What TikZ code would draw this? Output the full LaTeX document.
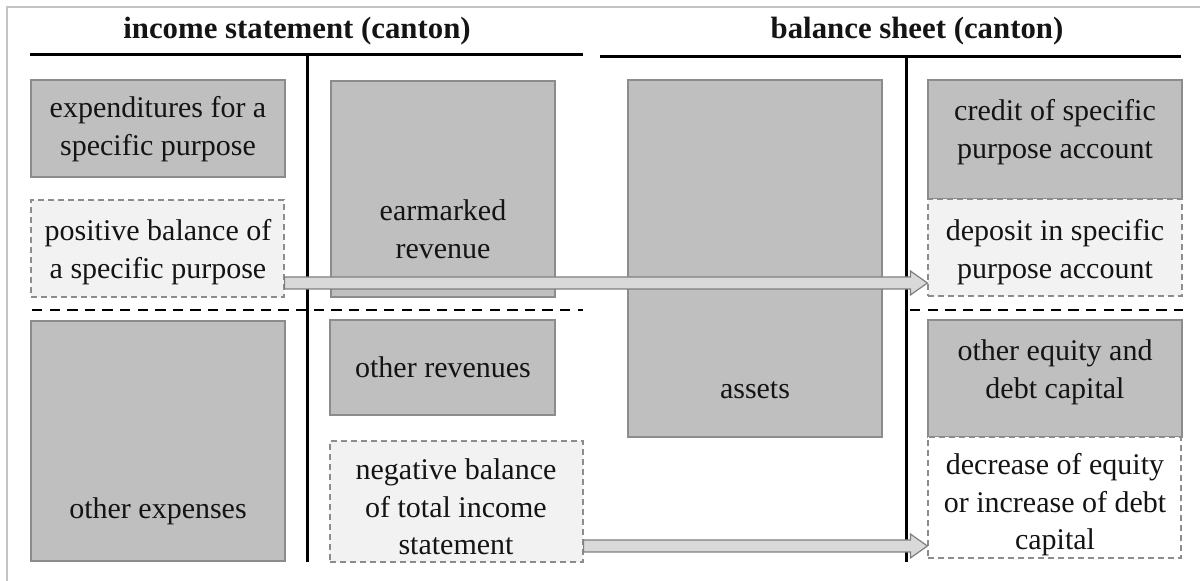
\documentclass[tikz,border=0pt]{standalone}
\usepackage{fontspec}
\setmainfont{Liberation Serif}
\usetikzlibrary{fit,calc}
\definecolor{boxgray}{HTML}{BFBFBF}
\definecolor{boxedge}{HTML}{8C8C8C}
\definecolor{paleface}{HTML}{F2F2F2}
\definecolor{arrowface}{HTML}{D9D9D9}
\definecolor{arrowedge}{HTML}{7F7F7F}
\definecolor{framegray}{HTML}{C4C4C4}
\definecolor{ink}{HTML}{141414}
\begin{document}
\begin{tikzpicture}[x=0.5pt,y=-0.5pt,
  every node/.style={font=\fontsize{15}{18.8}\selectfont, text=ink, align=center},
  heading/.style={font=\fontsize{15.4}{19}\selectfont\bfseries},
  solidbox/.style={draw=boxedge, fill=boxgray, line width=0.6pt, inner sep=0pt},
  dashbox/.style={draw=boxedge, fill=paleface, line width=0.6pt, dash pattern=on 3pt off 2pt, inner sep=0pt},
  openbox/.style={dashbox, fill=white},
  rule/.style={line width=1.5pt, black},
  divider/.style={line width=1.4pt, black, dash pattern=on 5.2pt off 3.6pt},
  flowarrow/.style={fill=arrowface, draw=arrowedge, line width=0.6pt, line join=miter}
]
\useasboundingbox (0,0) rectangle (1200,581);

% outer frame
\draw[framegray, line width=0.7pt] (7,581) -- (7,7) -- (1200,7);

% headings and T-account rules
\node[heading] (isHead) at (297,31) {income statement (canton)};
\node[heading] (bsHead) at (917,31) {balance sheet (canton)};
\draw[rule] (30,55) -- (583,55);
\draw[rule] (307,55) -- (307,562);
\draw[rule] (600,57) -- (1181,57);
\draw[rule] (906,57) -- (906,562);
\draw[divider] (32,310) -- (583,310);
\draw[divider] (910,310) -- (1183,310);

% income statement: expenses side
\node[solidbox, fit={(31,80) (285,177)}] (exp) {};
\node (expTxt) at (158,129) {expenditures for a\\specific purpose};
\node[dashbox, fit={(31,200) (284,297)}] (pos) {};
\node (posTxt) at (158,252) {positive balance of\\a specific purpose};
\node[solidbox, fit={(31,321) (285,561)}] (othExp) {};
\node (othExpTxt) at (158,511) {other expenses};

% income statement: revenue side
\node[solidbox, fit={(331,81) (555,297)}] (ear) {};
\node (earTxt) at (443,229) {earmarked\\revenue};
\node[solidbox, fit={(330,320) (555,415)}] (othRev) {};
\node (othRevTxt) at (443,367) {other revenues};
\node[dashbox, fit={(330,441) (583,562)}] (neg) {};
\node (negTxt) at (456,507) {negative balance\\of total income\\statement};

% balance sheet: assets
\node[solidbox, fit={(628,80) (882,437)}] (assets) {};
\node (assetsTxt) at (755,390) {assets};

% balance sheet: liabilities side
\node[solidbox, fit={(928,80) (1182,199)}] (credit) {};
\node (creditTxt) at (1055,132) {credit of specific\\purpose account};
\node[dashbox, fit={(928,199) (1182,296)}] (dep) {};
\node (depTxt) at (1055,252) {deposit in specific\\purpose account};
\node[solidbox, fit={(928,320) (1182,437)}] (othEq) {};
\node (othEqTxt) at (1055,372) {other equity and\\debt capital};
\node[openbox, fit={(928,437) (1181,558)}] (dec) {};
\node (decTxt) at (1055,505) {decrease of equity\\or increase of debt\\capital};

% transfer arrows
\coordinate (a1s) at (pos.east |- 0,283);
\coordinate (a1e) at (dep.west |- 0,283);
\coordinate (a2s) at (neg.east |- 0,546);
\coordinate (a2e) at (dec.west |- 0,546);
\foreach \s/\e in {a1s/a1e, a2s/a2e}{
  \draw[flowarrow] let \p1=(\s), \p2=(\e) in
    (\x1,\y1+3pt) -- (\x2-8.5pt,\y1+3pt) -- (\x2-8.5pt,\y1+6pt) -- (\x2,\y1)
    -- (\x2-8.5pt,\y1-6pt) -- (\x2-8.5pt,\y1-3pt) -- (\x1,\y1-3pt) -- cycle;
}
\end{tikzpicture}
\end{document}
